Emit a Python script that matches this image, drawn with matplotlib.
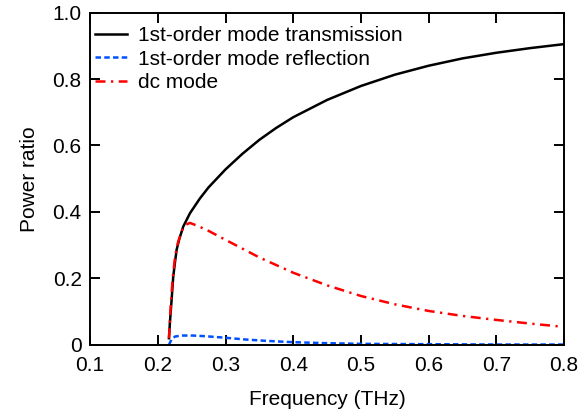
import matplotlib
matplotlib.use('Agg')
import matplotlib.pyplot as plt

# Values
freq_trans = [0.2165, 0.218, 0.2204, 0.2228, 0.2255, 0.2278, 0.232, 0.2376, 0.2475, 0.262,
              0.275, 0.30, 0.325, 0.35, 0.375, 0.40, 0.45, 0.50, 0.55, 0.60,
              0.65, 0.70, 0.75, 0.80]
trans = [0.02, 0.07, 0.135, 0.205, 0.25, 0.286, 0.32, 0.356, 0.396, 0.44,
         0.474, 0.528, 0.575, 0.617, 0.653, 0.685, 0.737, 0.779, 0.813, 0.840,
         0.862, 0.879, 0.893, 0.905]

freq_refl = [0.2165, 0.220, 0.2254, 0.235, 0.252, 0.27, 0.296, 0.33, 0.36, 0.4,
             0.45, 0.5, 0.6, 0.7, 0.8]
refl = [0.0, 0.015, 0.025, 0.028, 0.028, 0.026, 0.022, 0.016, 0.012, 0.008,
        0.005, 0.003, 0.002, 0.001, 0.001]

freq_dc = [0.2165, 0.2195, 0.222, 0.2255, 0.230, 0.236, 0.242, 0.2475, 0.26, 0.275,
           0.30, 0.35, 0.40, 0.45, 0.50, 0.55, 0.60, 0.65, 0.70, 0.75,
           0.80]
dc = [0.02, 0.13, 0.2, 0.265, 0.31, 0.345, 0.362, 0.367, 0.357, 0.343,
      0.316, 0.263, 0.217, 0.179, 0.147, 0.122, 0.102, 0.087, 0.075, 0.064,
      0.054]

xticks = [0.1, 0.2, 0.3, 0.4, 0.5, 0.6, 0.7, 0.8]
yticks = [0, 0.2, 0.4, 0.6, 0.8, 1.0]
ytick_labels = ['0', '0.2', '0.4', '0.6', '0.8', '1.0']

plt.rcParams['font.family'] = ['Liberation Sans', 'DejaVu Sans']
plt.rcParams['font.size'] = 15

fig = plt.figure(figsize=(5.81, 4.18), dpi=100)
ax = fig.add_axes([0.155, 0.175, 0.816, 0.795])

ax.plot(freq_trans, trans, color='black', lw=1.8, label='1st-order mode transmission')
ax.plot(freq_refl, refl, color='#0050ff', lw=1.8, dashes=[2.2, 1.3],
        label='1st-order mode reflection')
ax.plot(freq_dc, dc, color='red', lw=1.8, dashes=[4, 2.2, 0.9, 2.2], label='dc mode')

ax.set_xlim(0.1, 0.8)
ax.set_ylim(0, 1.0)
ax.set_xticks(xticks)
ax.set_yticks(yticks)
ax.set_yticklabels(ytick_labels)
ax.tick_params(direction='in', length=7, width=1.4, top=True, right=True, labelsize=15)
ax.tick_params(axis='x', pad=8)
ax.tick_params(axis='y', pad=6)
for s in ax.spines.values():
    s.set_linewidth(1.4)

ax.set_xlabel('Frequency (THz)', fontsize=15, labelpad=11)
ax.set_ylabel('Power ratio', fontsize=15, labelpad=10)

ax.legend(loc='upper left', bbox_to_anchor=(-0.018, 1.0), frameon=False,
          handlelength=1.55, handletextpad=0.5, labelspacing=0.22,
          borderaxespad=0.25, fontsize=15)

fig.savefig('out.png', dpi=100)
